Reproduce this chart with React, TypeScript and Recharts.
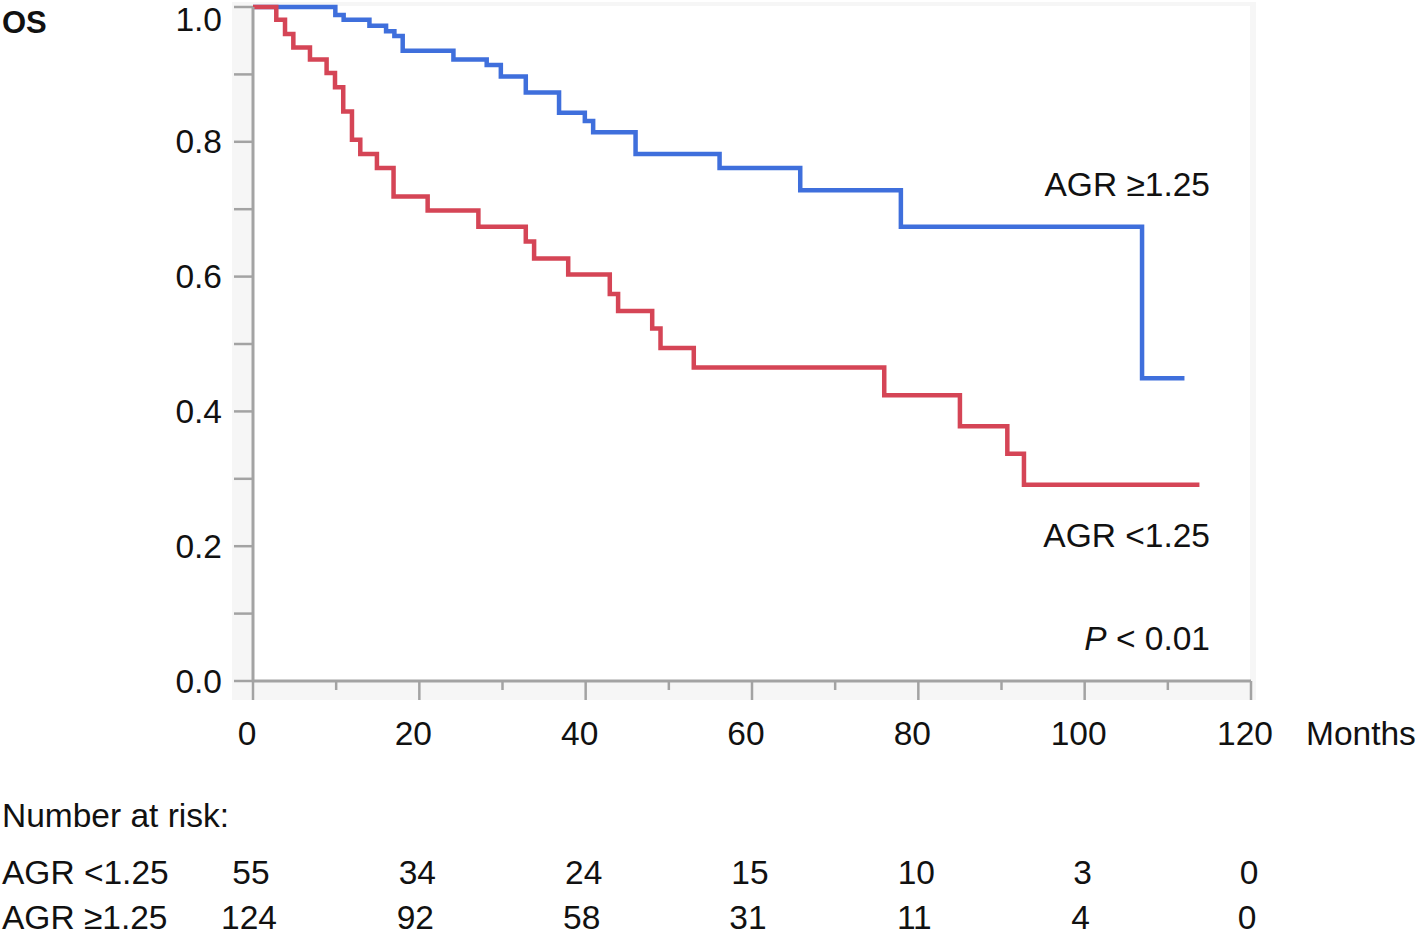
import { LineChart, Line, XAxis, YAxis } from 'recharts'

// Kaplan-Meier steps (months, survival)
const highTimes = [0, 9.9, 10.9, 14, 16, 17, 18, 24.1, 28.1, 29.8, 32.8, 36.8, 39.9, 40.9, 46, 56.1, 65.8, 77.9, 106.9, 112]
const highSurv = [1, 0.988, 0.981, 0.972, 0.964, 0.957, 0.935, 0.922, 0.914, 0.897, 0.873, 0.843, 0.831, 0.814, 0.782, 0.761, 0.728, 0.674, 0.449, 0.449]

const lowTimes = [0, 2.8, 3.85, 4.85, 6.85, 8.85, 9.86, 10.85, 11.9, 12.9, 14.9, 16.9, 21, 27.1, 32.8, 33.8, 37.9, 42.9, 43.9, 48, 49, 53, 75.9, 85, 90.7, 92.7, 113.8]
const lowSurv = [1, 0.981, 0.96, 0.94, 0.922, 0.902, 0.881, 0.845, 0.803, 0.782, 0.761, 0.719, 0.698, 0.674, 0.652, 0.627, 0.603, 0.574, 0.549, 0.523, 0.494, 0.465, 0.424, 0.378, 0.337, 0.291, 0.291]

const xTicks = [0, 10, 20, 30, 40, 50, 60, 70, 80, 90, 100, 110, 120]
const yTicks = [0, 0.1, 0.2, 0.3, 0.4, 0.5, 0.6, 0.7, 0.8, 0.9, 1.0]

const riskLow = [55, 34, 24, 15, 10, 3, 0]
const riskHigh = [124, 92, 58, 31, 11, 4, 0]

const BLUE = '#3f6fdc'
const RED = '#d54556'
const AXIS = '#a3a3a3'
const FONT = '"Liberation Sans", Arial, Helvetica, sans-serif'
const FS = 33.5

const highData = highTimes.map((t, i) => ({ t, s: highSurv[i] }))
const lowData = lowTimes.map((t, i) => ({ t, s: lowSurv[i] }))

function XTick(props: any) {
  const { x, y, payload } = props
  const v = payload.value as number
  const major = v % 20 === 0
  const i = v / 20
  const txt = { fontFamily: FONT, fontSize: FS, fill: '#111', textAnchor: 'middle' as const, dominantBaseline: 'central' as const }
  return (
    <g>
      <line x1={x} x2={x} y1={y} y2={y + (major ? 19 : 9)} stroke={AXIS} strokeWidth={2.5} />
      {major && <text x={x - 6} y={y + 52} {...txt}>{v}</text>}
      {major && <text x={x - 2} y={y + 191} {...txt}>{riskLow[i]}</text>}
      {major && <text x={x - 4} y={y + 236} {...txt}>{riskHigh[i]}</text>}
    </g>
  )
}

function YTick(props: any) {
  const { x, y, payload } = props
  const v = payload.value as number
  const major = Math.round(v * 10) % 2 === 0
  // the top label is pushed down a little so it stays inside the picture
  const ty = v === 1 ? y + 12 : y
  return (
    <g>
      <line x1={x - 19} x2={x} y1={y} y2={y} stroke={AXIS} strokeWidth={2.5} />
      {major && (
        <text x={x - 31} y={ty} textAnchor="end" dominantBaseline="central"
          fontFamily={FONT} fontSize={FS} fill="#111">{v.toFixed(1)}</text>
      )}
    </g>
  )
}

export default function App() {
  const label = (x: number, y: number, s: React.ReactNode, anchor: 'start' | 'end' = 'start', extra: any = {}) => (
    <text x={x} y={y} textAnchor={anchor} dominantBaseline="central" fontFamily={FONT} fontSize={FS} fill="#111" {...extra}>{s}</text>
  )
  return (
    <div style={{ position: 'absolute', left: 0, top: 0, width: 1418, height: 935, background: '#fff' }}>
      {/* light frame around the plot panel */}
      <svg width={1418} height={935} style={{ position: 'absolute', left: 0, top: 0 }}>
        <rect x={232} y={2} width={1024} height={698} fill="#f6f6f6" />
        <rect x={253} y={6} width={997} height={675} fill="#fff" />
      </svg>
      <div style={{ position: 'absolute', left: 0, top: 0 }}>
        <LineChart width={1418} height={935} margin={{ top: 7, right: 167, bottom: 0, left: 0 }}>
          <XAxis
            type="number"
            dataKey="t"
            domain={[0, 120]}
            ticks={xTicks}
            interval={0}
            height={254}
            tickSize={0}
            tickMargin={0}
            tickLine={false}
            axisLine={{ stroke: AXIS, strokeWidth: 3 }}
            tick={<XTick />}
          />
          <YAxis
            type="number"
            domain={[0, 1]}
            ticks={yTicks}
            interval={0}
            width={253}
            tickSize={0}
            tickMargin={0}
            tickLine={false}
            axisLine={{ stroke: AXIS, strokeWidth: 3 }}
            tick={<YTick />}
          />
          <Line data={highData} dataKey="s" type="stepAfter" stroke={BLUE} strokeWidth={4.5} dot={false} isAnimationActive={false} />
          <Line data={lowData} dataKey="s" type="stepAfter" stroke={RED} strokeWidth={4.5} dot={false} isAnimationActive={false} />
        </LineChart>
      </div>
      <svg width={1418} height={935} style={{ position: 'absolute', left: 0, top: 0, pointerEvents: 'none' }}>
        {label(2, 22, 'OS', 'start', { fontWeight: 'bold', fontSize: 31 })}
        {label(1210, 184, 'AGR ≥1.25', 'end')}
        {label(1210, 535, 'AGR <1.25', 'end')}
        {label(1210, 638, <><tspan fontStyle="italic">P</tspan> &lt; 0.01</>, 'end')}
        {label(1306, 733, 'Months')}
        {label(2, 815, 'Number at risk:')}
        {label(2, 872, 'AGR <1.25')}
        {label(2, 917, 'AGR ≥1.25')}
      </svg>
    </div>
  )
}
